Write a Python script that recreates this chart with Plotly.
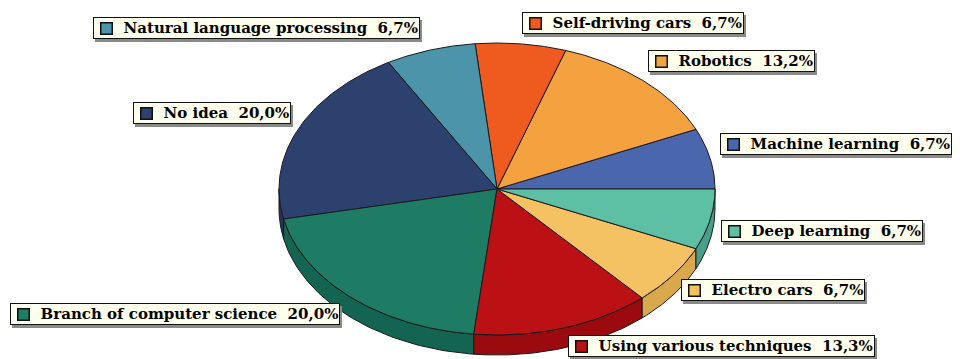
import numpy as np
import plotly.graph_objects as go

# ---- data (counter-clockwise from 3 o'clock) ----
categories = ["Machine learning", "Robotics", "Self-driving cars", "Natural language processing",
              "No idea", "Branch of computer science", "Using various techniques",
              "Electro cars", "Deep learning"]
values = [6.7, 13.2, 6.7, 6.7, 20.0, 20.0, 13.3, 6.7, 6.7]
value_labels = ["6,7%", "13,2%", "6,7%", "6,7%", "20,0%", "20,0%", "13,3%", "6,7%", "6,7%"]

# ---- styles ----
top_colors = ["#4a66ad", "#f3a23f", "#ef5a1e", "#4b94aa", "#2d416e",
              "#1e7b64", "#bb1115", "#f4c163", "#5dbfa3"]
side_colors = ["#3a5290", "#d98a2c", "#c94510", "#3a7a8c", "#22345a",
               "#146452", "#9a0a0e", "#d9a84c", "#48a08a"]
# label box anchor (left x, center y) in page-pixel space
label_pos = [(720, 144), (648, 61), (522, 23), (93, 28), (133, 113),
             (10, 314), (568, 346), (681, 290), (721, 231)]

W, H = 960, 359
OFF = 8  # default page body margin
cx, cy, rx, ry, depth = 497, 189, 218, 146, 20

fig = go.Figure()

total = sum(values)
cum = np.concatenate([[0], np.cumsum(values)]) / total * 360.0


def ell(theta_deg, dy=0.0):
    t = np.radians(theta_deg)
    return cx + rx * np.cos(t), cy - ry * np.sin(t) + dy


# sides (front half only: 180..360 deg)
for i in range(len(values)):
    a1, a2 = max(cum[i], 180.0), min(cum[i + 1], 360.0)
    if a2 <= a1:
        continue
    th = np.linspace(a1, a2, 60)
    xt, yt = ell(th)
    xb, yb = ell(th[::-1], depth)
    xs = np.concatenate([xt, xb, [xt[0]]])
    ys = np.concatenate([yt, yb, [yt[0]]])
    fig.add_trace(go.Scatter(x=xs, y=ys, mode="lines", fill="toself",
                             fillcolor=side_colors[i],
                             line=dict(color="#1a1a1a", width=1),
                             hoverinfo="skip", showlegend=False))

# top faces
for i in range(len(values)):
    th = np.linspace(cum[i], cum[i + 1], 80)
    xt, yt = ell(th)
    xs = np.concatenate([[cx], xt, [cx]])
    ys = np.concatenate([[cy], yt, [cy]])
    fig.add_trace(go.Scatter(x=xs, y=ys, mode="lines", fill="toself",
                             fillcolor=top_colors[i],
                             line=dict(color="#1a1a1a", width=1),
                             hoverinfo="text", text=f"{categories[i]} {value_labels[i]}",
                             showlegend=False))

# labels
FS = 15
font = dict(family="DejaVu Serif", size=FS, color="black")
for i in range(len(values)):
    lx, ly = label_pos[i]
    txt = "\u00a0" * 6 + "<b>" + categories[i] + "\u00a0\u00a0" + value_labels[i] + "</b>"
    # shadow
    fig.add_annotation(x=lx, y=ly, xref="x", yref="y", xanchor="left", yanchor="middle",
                       text=txt, showarrow=False,
                       font=dict(family="DejaVu Serif", size=FS, color="rgba(0,0,0,0)"),
                       bgcolor="#8a8a8a", bordercolor="#8a8a8a", borderwidth=1, borderpad=1,
                       xshift=2, yshift=-3)
    fig.add_annotation(x=lx, y=ly, xref="x", yref="y", xanchor="left", yanchor="middle",
                       text=txt, showarrow=False, font=font,
                       bgcolor="#ffffee", bordercolor="#111111", borderwidth=1, borderpad=1)
    # legend colour square
    fig.add_annotation(x=lx + 7, y=ly, xref="x", yref="y", xanchor="left", yanchor="middle",
                       text="", showarrow=False, width=10, height=10,
                       bgcolor=top_colors[i], bordercolor="#111111", borderwidth=1.5, borderpad=0)

fig.update_layout(width=W, height=H, margin=dict(l=0, r=0, t=0, b=0),
                  paper_bgcolor="white", plot_bgcolor="white",
                  xaxis=dict(range=[OFF, W + OFF], visible=False, fixedrange=True),
                  yaxis=dict(range=[H + OFF, OFF], visible=False, fixedrange=True))

fig.write_html("out.html")
